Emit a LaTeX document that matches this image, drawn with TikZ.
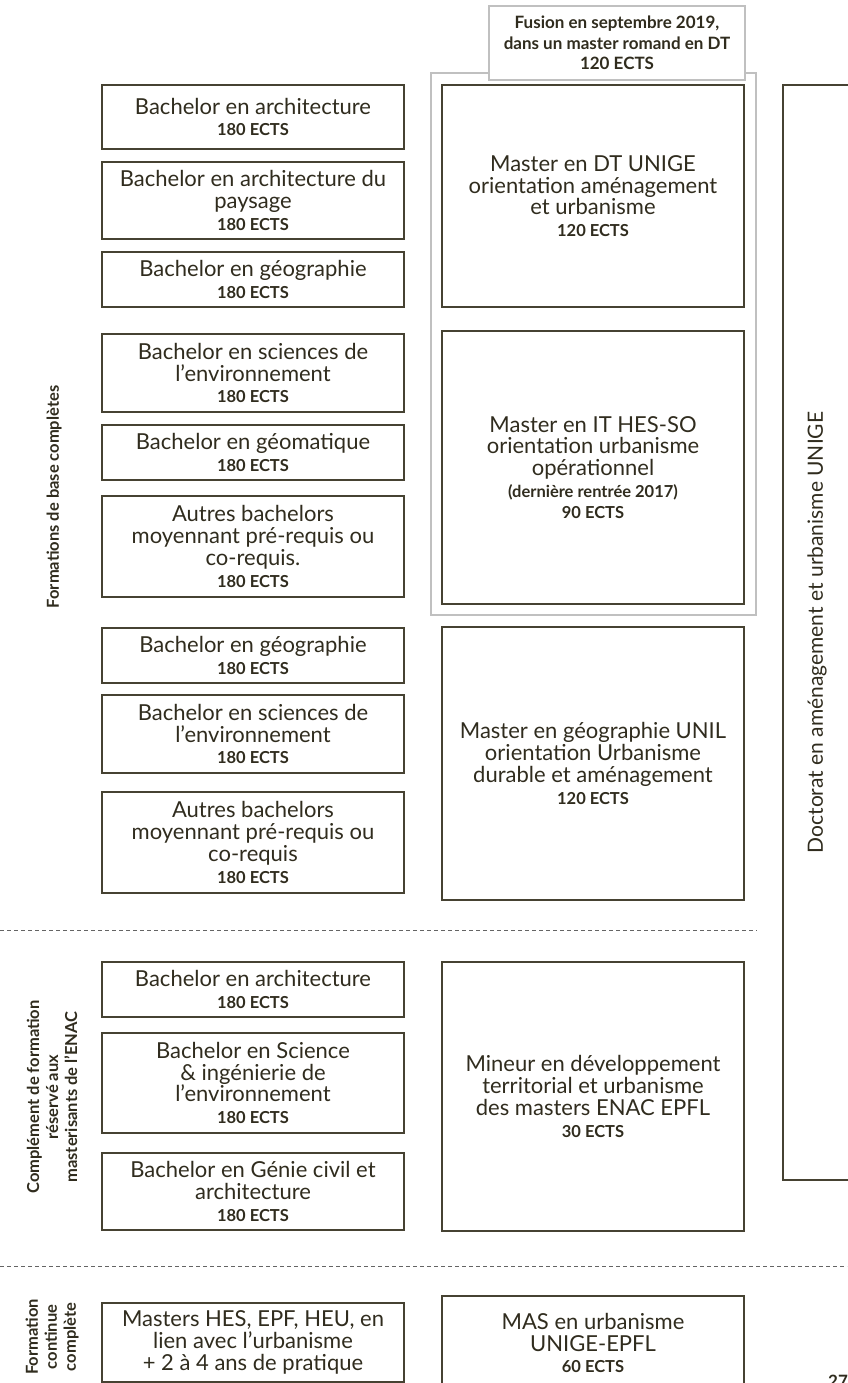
\documentclass[tikz,border=0pt]{standalone}
\usepackage{fontspec}
\setmainfont{Lato}
\definecolor{encre}{RGB}{48,44,30}
\definecolor{trait}{RGB}{70,66,50}
\definecolor{grisbox}{RGB}{192,192,192}
\definecolor{tirets}{RGB}{100,100,100}
\newcommand{\ects}{\fontsize{16.5}{17}\selectfont\bfseries}
\lineskiplimit=-30pt

\begin{document}
\begin{tikzpicture}[x=1pt,y=-1pt,
    cours/.style={draw=trait,line width=1.2pt,text=encre,align=center,inner sep=0pt,minimum width=302,font=\fontsize{22}{21.7}\selectfont},
    groupe/.style={draw=grisbox,line width=2pt},
    axe/.style={text=encre,align=center,rotate=90,font=\fontsize{16.5}{19}\selectfont\bfseries},
    separation/.style={draw=tirets,line width=0.9pt,dash pattern=on 4pt off 3pt}]
    \useasboundingbox (0,0) rectangle (847,1383);

    % bloc en DT
    \draw[groupe](431,73) rectangle (756,615);
    \node[draw=grisbox,line width=2pt,fill=white,text=encre,align=center,minimum width=256,minimum height=74,inner sep=0pt,font=\fontsize{17}{20.5}\selectfont\bfseries] (fusion) at (617,43) {Fusion en septembre 2019,\\dans un master romand en DT\\120 ECTS};

    % bachelors
    \node[cours,minimum height=64] (archi) at (253,117) {Bachelor en architecture\\{\ects 180 ECTS}};
    \node[cours,minimum height=77] (paysage) at (253,200.5) {Bachelor en architecture du\\paysage\\{\ects 180 ECTS}};
    \node[cours,minimum height=55] (geo) at (253,279.5) {Bachelor en géographie\\{\ects 180 ECTS}};
    \node[cours,minimum height=78] (envi) at (253,373) {Bachelor en sciences de\\l’environnement\\{\ects 180 ECTS}};
    \node[cours,minimum height=55] (geomat) at (253,452.5) {Bachelor en géomatique\\{\ects 180 ECTS}};
    \node[cours,minimum height=101] (autres) at (253,546.5) {Autres bachelors\\moyennant pré-requis ou\\co-requis.\\{\ects 180 ECTS}};
    \node[cours,minimum height=55] (geob) at (253,655.5) {Bachelor en géographie\\{\ects 180 ECTS}};
    \node[cours,minimum height=78] (envib) at (253,734) {Bachelor en sciences de\\l’environnement\\{\ects 180 ECTS}};
    \node[cours,minimum height=101] (autresb) at (253,842.5) {Autres bachelors\\moyennant pré-requis ou\\co-requis\\{\ects 180 ECTS}};
    \node[cours,minimum height=55] (archic) at (253,989.5) {Bachelor en architecture\\{\ects 180 ECTS}};
    \node[cours,minimum height=100] (sie) at (253,1083) {Bachelor en Science\\\& ingénierie de\\l’environnement\\{\ects 180 ECTS}};
    \node[cours,minimum height=77] (gc) at (253,1191.5) {Bachelor en Génie civil et\\architecture\\{\ects 180 ECTS}};
    \node[cours,minimum height=79] (hes) at (253,1342.5) {Masters HES, EPF, HEU, en\\lien avec l’urbanisme\\+ 2 à 4 ans de pratique};

    % masters
    \node[cours,minimum height=222] (dt) at (593,196) {Master en DT UNIGE\\orientation aménagement\\et urbanisme\\{\ects 120 ECTS}};
    \node[cours,minimum height=273] (it) at (593,467.5) {Master en IT HES-SO\\orientation urbanisme\\opérationnel\\{\ects (dernière rentrée 2017)}\\{\ects 90 ECTS}};
    \node[cours,minimum height=273] (unil) at (593,763.5) {Master en géographie UNIL\\orientation Urbanisme\\durable et aménagement\\{\ects 120 ECTS}};
    \node[cours,minimum height=269] (mineur) at (593,1096.5) {Mineur en développement\\territorial et urbanisme\\des masters ENAC EPFL\\{\ects 30 ECTS}};
    \node[cours,minimum height=94] (mas) at (593,1343) {MAS en urbanisme\\UNIGE-EPFL\\{\ects 60 ECTS}};

    % doctorat
    \node[cours,rotate=90,minimum width=1095,minimum height=68,font=\fontsize{21}{24}\selectfont] (doc) at (817,632.5) {Doctorat en aménagement et urbanisme UNIGE};

    % separations
    \coordinate (sa) at (0,930);
    \coordinate (sb) at (757,930);
    \coordinate (sc) at (0,1266);
    \coordinate (sd) at (847,1266);
    \draw[separation](sa)--(sb);
    \draw[separation](sc)--(sd);

    % axes
    \node[axe] (base) at (54,497) {Formations de base complètes};
    \node[axe] (enac) at (52,1097) {Complément de formation\\réservé aux\\masterisants de l’ENAC};
    \node[axe] (fc) at (52,1337) {Formation\\continue\\complète};

    \node[text=encre,anchor=north west,inner sep=0pt,font=\fontsize{17}{20}\selectfont\bfseries] (page) at (828,1375) {27};
\end{tikzpicture}
\end{document}
